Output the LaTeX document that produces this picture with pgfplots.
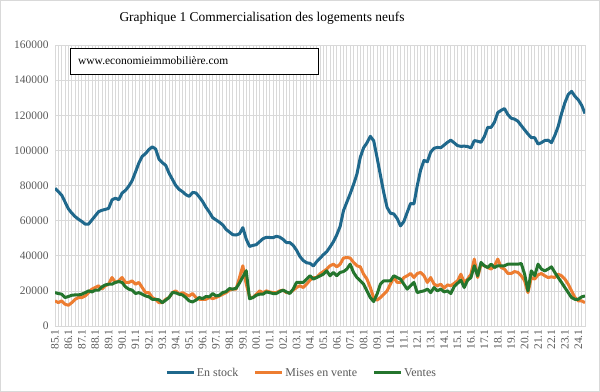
\documentclass[border=0pt]{standalone}
\usepackage{fontspec}
\setmainfont{Liberation Serif}
\usepackage{pgfplots}
\pgfplotsset{compat=1.18}
\definecolor{cstock}{RGB}{31,104,140}
\definecolor{cmises}{RGB}{237,125,49}
\definecolor{cventes}{RGB}{36,117,45}
\definecolor{gridc}{RGB}{217,217,217}
\definecolor{labc}{RGB}{89,89,89}
\begin{document}
\begin{tikzpicture}
\useasboundingbox (0,0) rectangle (600bp,392bp);
\fill[white] (0,0) rectangle (600bp,392bp);
\begin{axis}[
  at={(55bp,66bp)}, anchor=south west,
  scale only axis, width=530bp, height=281bp,
  xmin=0, xmax=158, ymin=0, ymax=160000,
  xtick={0,4,...,156},
  xticklabels={85.1,86.1,87.1,88.1,89.1,90.1,91.1,92.1,93.1,94.1,95.1,96.1,97.1,98.1,99.1,00.1,01.1,02.1,03.1,04.1,05.1,06.1,07.1,08.1,09.1,10.1,11.1,12.1,13.1,14.1,15.1,16.1,17.1,18.1,19.1,20.1,21.1,22.1,23.1,24.1},
  minor xtick={0,...,158},
  ytick={0,20000,...,160000},
  xmajorgrids, xminorgrids, ymajorgrids,
  major grid style={draw=gridc, line width=0.7bp},
  minor grid style={draw=gridc, line width=0.7bp},
  axis line style={draw=gridc, line width=0.7bp},
  major tick length=0pt, minor tick length=0pt,
  scaled y ticks=false,
  yticklabel={\pgfmathprintnumber[fixed,precision=0,1000 sep={},assume math mode=true]{\tick}},
  yticklabel style={font=\fontsize{11.5}{13}\selectfont, text=labc, xshift=-3bp},
  xticklabel style={rotate=90, anchor=east, font=\fontsize{11.5}{13}\selectfont, text=labc},
  legend style={at={(0.465,-0.167)}, anchor=center, draw=none, fill=none, font=\fontsize{12}{14}\selectfont, text=labc, legend columns=3, nodes={inner sep=1.5bp}, /tikz/every even column/.append style={column sep=14bp}},
  legend image code/.code={\draw[#1] (0bp,0bp) -- (27bp,0bp);},
  every axis plot/.append style={line width=3bp, line join=round, no markers},
]
\addplot[cstock] coordinates {
(0,78400)(1,76500)(2,74500)(3,70600)(4,66700)(5,64300)(6,62300)(7,60800)(8,59500)(9,58000)
(10,58000)(11,60400)(12,62700)(13,65100)(14,65900)(15,66400)(16,67000)(17,71800)(18,72800)(19,71900)
(20,75700)(21,77200)(22,79600)(23,82800)(24,87700)(25,92800)(26,96600)(27,98200)(28,100500)(29,102000)
(30,100800)(31,95000)(32,93000)(33,91500)(34,87000)(35,83500)(36,80000)(37,77800)(38,76500)(39,74800)
(40,73800)(41,76000)(42,75800)(43,73500)(44,70900)(45,67600)(46,64900)(47,61700)(48,60400)(49,59100)
(50,57600)(51,55000)(52,53500)(53,52000)(54,51800)(55,52500)(56,56000)(57,49500)(58,45300)(59,45900)
(60,46300)(61,48000)(62,49700)(63,50500)(64,50400)(65,50300)(66,51100)(67,50600)(68,49300)(69,47500)
(70,47500)(71,45900)(72,43200)(73,39600)(74,37300)(75,36000)(76,35700)(77,34200)(78,36600)(79,38600)
(80,40600)(81,42300)(82,45000)(83,48000)(84,51900)(85,56700)(86,65700)(87,70500)(88,75300)(89,80600)
(90,86400)(91,96000)(92,101500)(93,104300)(94,108000)(95,105500)(96,96000)(97,86000)(98,76000)(99,67500)
(100,64200)(101,63800)(102,61200)(103,57000)(104,59500)(105,64700)(106,69800)(107,69500)(108,80000)(109,88800)
(110,94300)(111,93500)(112,99000)(113,101200)(114,101700)(115,101500)(116,103000)(117,104600)(118,105800)(119,104300)
(120,102700)(121,102300)(122,102400)(123,102200)(124,101400)(125,105600)(126,105200)(127,104600)(128,107900)(129,113100)
(130,113100)(131,116000)(132,121500)(133,122800)(134,123800)(135,120400)(136,118300)(137,117800)(138,116600)(139,114100)
(140,111700)(141,109300)(142,107200)(143,107200)(144,103600)(145,104400)(146,105600)(147,105800)(148,104400)(149,108500)
(150,113600)(151,120900)(152,127100)(153,131800)(154,133600)(155,130800)(156,128800)(157,125700)(158,121000)
};
\addlegendentry{En stock}
\addplot[cmises] coordinates {
(0,14300)(1,13300)(2,14300)(3,12400)(4,11800)(5,13300)(6,15200)(7,16200)(8,16200)(9,17100)
(10,19000)(11,21000)(12,21900)(13,22900)(14,21000)(15,22900)(16,23800)(17,27600)(18,24800)(19,25700)
(20,27600)(21,24800)(22,24800)(23,25700)(24,23800)(25,24800)(26,21900)(27,19000)(28,19000)(29,16200)
(30,15200)(31,13300)(32,13300)(33,15200)(34,16200)(35,19000)(36,20000)(37,18100)(38,19000)(39,18000)
(40,17100)(41,18500)(42,16200)(43,15200)(44,15200)(45,15200)(46,16200)(47,15600)(48,16200)(49,17100)
(50,18100)(51,19000)(52,20400)(53,21000)(54,21000)(55,27600)(56,34300)(57,24000)(58,16500)(59,16200)
(60,18100)(61,20000)(62,19000)(63,20000)(64,19400)(65,19000)(66,19000)(67,20000)(68,20400)(69,19000)
(70,19000)(71,20400)(72,21900)(73,22900)(74,21900)(75,23800)(76,26100)(77,27600)(78,27600)(79,29700)
(80,31000)(81,32400)(82,34300)(83,35200)(84,33700)(85,35200)(86,38700)(87,39000)(88,38700)(89,36200)
(90,34300)(91,33700)(92,29500)(93,26700)(94,21900)(95,16200)(96,14700)(97,16200)(98,18100)(99,20000)
(100,23800)(101,27600)(102,24800)(103,24800)(104,27600)(105,28600)(106,29900)(107,27600)(108,29900)(109,30500)
(110,28600)(111,24800)(112,27600)(113,23800)(114,22900)(115,23800)(116,21500)(117,23400)(118,22900)(119,24300)
(120,25700)(121,29500)(122,24800)(123,26700)(124,29500)(125,38100)(126,27600)(127,35200)(128,34300)(129,33300)
(130,32400)(131,34300)(132,38100)(133,33300)(134,32400)(135,29900)(136,29900)(137,31000)(138,30500)(139,28600)
(140,25700)(141,19000)(142,27600)(143,26700)(144,29100)(145,29900)(146,28600)(147,27600)(148,28000)(149,27600)
(150,29500)(151,28600)(152,26700)(153,23800)(154,20000)(155,16200)(156,14300)(157,14300)(158,13300)
};
\addlegendentry{Mises en vente}
\addplot[cventes] coordinates {
(0,19000)(1,18500)(2,18100)(3,16200)(4,16800)(5,17500)(6,17700)(7,17700)(8,18100)(9,19000)
(10,20000)(11,19400)(12,20400)(13,20400)(14,22300)(15,23400)(16,23800)(17,23800)(18,24800)(19,25300)
(20,24800)(21,22300)(22,21000)(23,20400)(24,18500)(25,19000)(26,18100)(27,17100)(28,16600)(29,15200)
(30,15200)(31,14900)(32,13300)(33,14700)(34,16200)(35,19000)(36,18900)(37,18100)(38,17700)(39,16200)
(40,14300)(41,13700)(42,14700)(43,16200)(44,15600)(45,16800)(46,16600)(47,18500)(48,17100)(49,17500)
(50,19000)(51,19600)(52,21300)(53,21000)(54,21500)(55,24500)(56,28000)(57,31500)(58,15500)(59,16200)
(60,17500)(61,18100)(62,18100)(63,19400)(64,19000)(65,18500)(66,18500)(67,19600)(68,20400)(69,19400)
(70,18500)(71,21000)(72,24800)(73,24800)(74,24800)(75,26700)(76,28600)(77,26700)(78,27600)(79,28500)
(80,29500)(81,31400)(82,28600)(83,30500)(84,28600)(85,30500)(86,31000)(87,32400)(88,35200)(89,30500)
(90,27600)(91,25700)(92,23800)(93,20000)(94,16200)(95,13900)(96,18100)(97,23800)(98,25700)(99,25700)
(100,25700)(101,28600)(102,27600)(103,26700)(104,23800)(105,21000)(106,22900)(107,24800)(108,19000)(109,19600)
(110,20000)(111,21000)(112,19000)(113,21900)(114,20000)(115,21000)(116,19400)(117,20000)(118,18500)(119,22500)
(120,24300)(121,26100)(122,21900)(123,26100)(124,27600)(125,34300)(126,28600)(127,36200)(128,34300)(129,33300)
(130,35200)(131,33300)(132,34300)(133,34300)(134,34300)(135,35200)(136,35200)(137,35200)(138,35200)(139,35600)
(140,29500)(141,20000)(142,31400)(143,28600)(144,35200)(145,32400)(146,31400)(147,32400)(148,33700)(149,30500)
(150,27600)(151,24800)(152,21900)(153,19000)(154,16200)(155,15200)(156,15200)(157,16600)(158,17100)
};
\addlegendentry{Ventes}
\end{axis}
\node[draw=black, line width=1.3bp, fill=white, minimum width=248bp, minimum height=26bp, anchor=north west, inner sep=0pt] at (70bp,344bp) {};
\node[anchor=west, font=\fontsize{11.5}{13}\selectfont, inner sep=0pt] at (78bp,331bp) {www.economieimmobilière.com};
\node[font=\fontsize{13.5}{16}\selectfont] at (262bp,374bp) {Graphique 1 Commercialisation des logements neufs};
\draw[gridc, line width=1bp] (0.5bp,0.5bp) rectangle (599.5bp,391.5bp);
\end{tikzpicture}
\end{document}
